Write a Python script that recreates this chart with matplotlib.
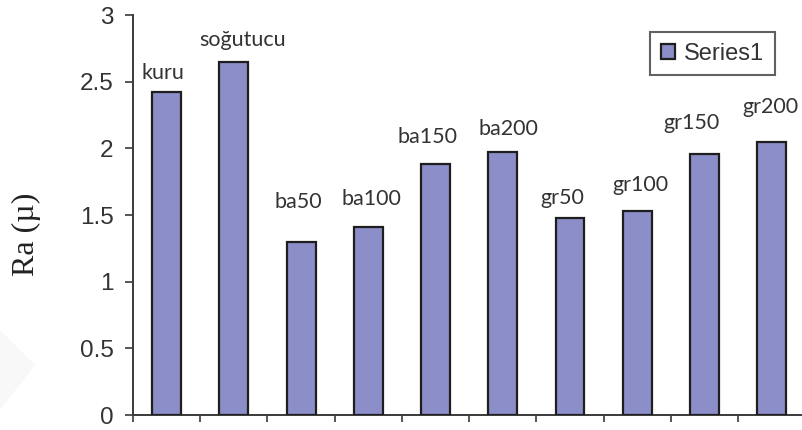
import matplotlib
matplotlib.use("Agg")
import matplotlib.pyplot as plt
from matplotlib.patches import Polygon

# Surface roughness per cutting condition
conditions = ["kuru", "soğutucu", "ba50", "ba100", "ba150", "ba200",
              "gr50", "gr100", "gr150", "gr200"]
ra_values = [2.42, 2.65, 1.30, 1.41, 1.88, 1.97, 1.48, 1.53, 1.96, 2.05]

# hand-tuned label offsets (pixels) from each bar top
label_dx = [-4, 9, -3, 3, -8, 6, -8, 3, -13, -1]
label_dy = [19, 22, 40, 28, 27, 23, 20, 26, 31, 35]

yticks = [0, 0.5, 1, 1.5, 2, 2.5, 3]

bar_color = "#8b8ec8"
edge_color = "#1e1e1e"
text_color = "#333333"

fig = plt.figure(figsize=(8.02, 4.30), dpi=100)
ax = fig.add_axes([133 / 802, 1 - 415 / 430, 1 - 133 / 802, 400 / 430])

# faint grey shape in the lower left corner
fig.patches.append(Polygon([(0, 1 - 330 / 430), (35 / 802, 1 - 365 / 430),
                            (0, 1 - 410 / 430)], closed=True,
                           transform=fig.transFigure, facecolor="#f8f8f8",
                           edgecolor="none", zorder=0))

x = list(range(len(conditions)))
bars = ax.bar(x, ra_values, width=0.43, color=bar_color, edgecolor=edge_color,
              linewidth=1.6, label="Series1", zorder=3)

for xi, v, name, dx, dy in zip(x, ra_values, conditions, label_dx, label_dy):
    ax.annotate(name, (xi, v), xytext=(dx, dy), textcoords="offset pixels",
                ha="center", va="center", fontsize=15.5, family="Lato",
                color=text_color)

ax.set_xlim(-0.5, 9.45)
ax.set_ylim(0, 3)
ax.set_yticks(yticks)
ax.set_yticklabels([f"{t:g}" for t in yticks])
ax.set_xticks([i - 0.5 for i in range(10)])
ax.set_xticklabels([])

for side in ["top", "right"]:
    ax.spines[side].set_visible(False)
for side in ["left", "bottom"]:
    ax.spines[side].set_color("#3a3a3a")
    ax.spines[side].set_linewidth(1.4)

ax.tick_params(axis="y", direction="out", length=6, width=1.2, color="#3a3a3a",
               labelsize=17.5, labelcolor=text_color, pad=8)
ax.tick_params(axis="x", direction="out", length=5, width=1.2, color="#3a3a3a")
for lbl in ax.get_yticklabels():
    lbl.set_family("Liberation Sans")

fig.text(26 / 802, 1 - 234 / 430, "Ra (µ)", rotation=90, ha="center",
         va="center", fontsize=23, family="Liberation Serif", color="#222222")

leg = ax.legend(loc="upper right", bbox_to_anchor=(775 / 802, 1 - 32 / 430),
                bbox_transform=fig.transFigure, borderaxespad=0,
                fancybox=False, handlelength=0.6, handleheight=0.6,
                handletextpad=0.4, borderpad=0.45,
                prop={"family": "Liberation Sans", "size": 17})
leg.get_frame().set_edgecolor("#3a3a3a")
leg.get_frame().set_linewidth(1.5)
for t in leg.get_texts():
    t.set_color(text_color)

fig.savefig("out.png", dpi=100)
